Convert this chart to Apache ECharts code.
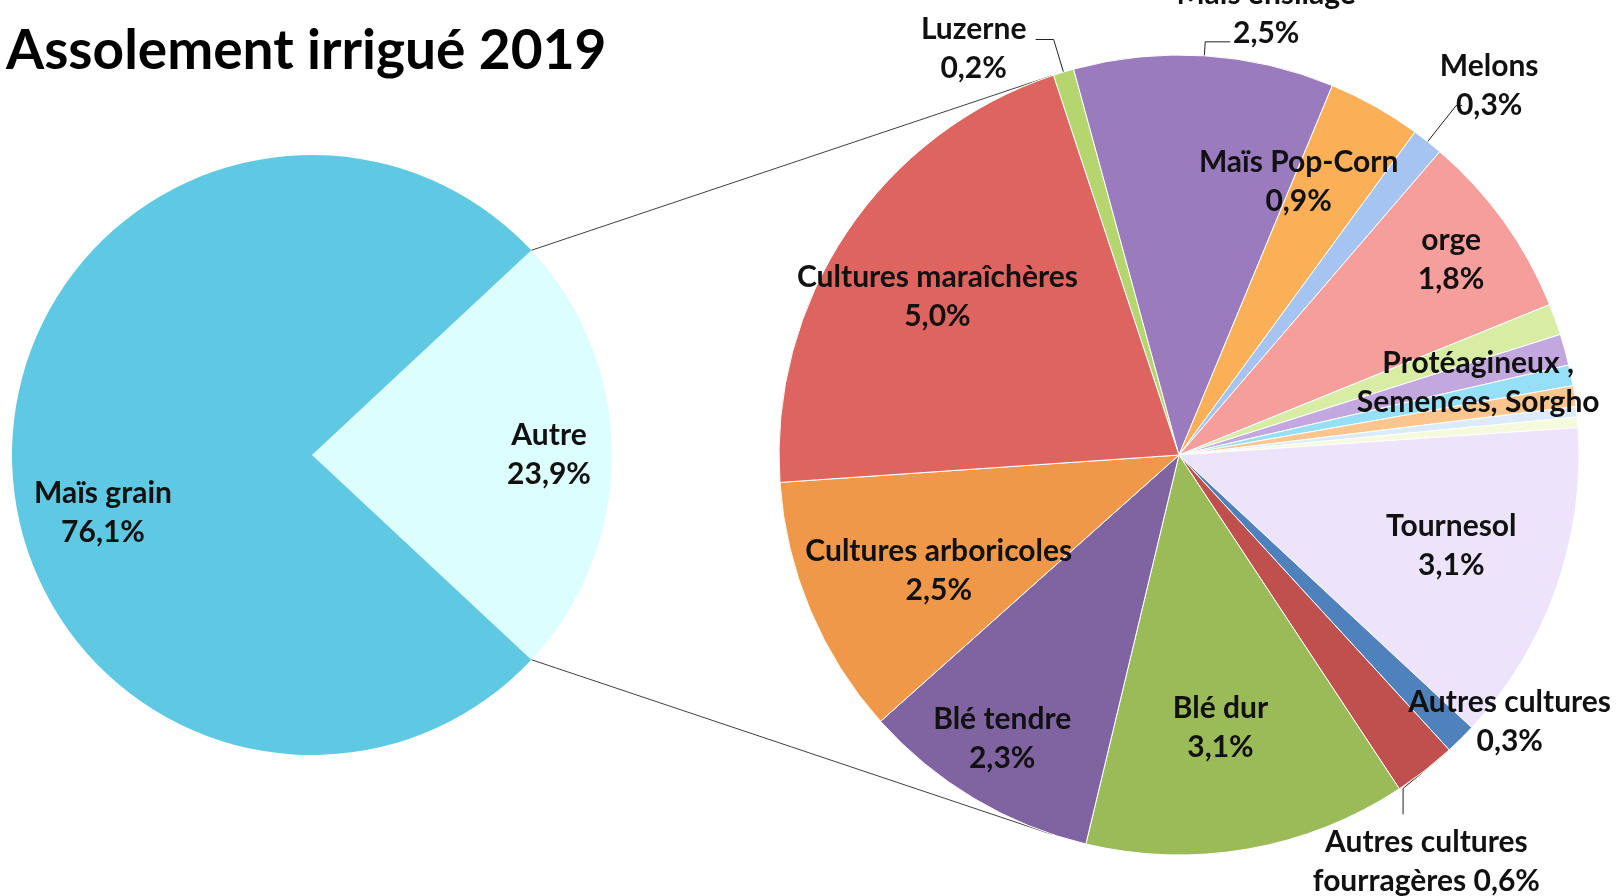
<!DOCTYPE html>
<html>
<head>
<meta charset="utf-8">
<script src="https://cdn.jsdelivr.net/npm/echarts@6/dist/echarts.min.js"></script>
<style>
  html, body { margin: 0; padding: 0; background: #fff; }
  #chart { width: 1618px; height: 896px; }
</style>
</head>
<body>
<div id="chart"></div>
<script>
// camembert principal
const mainNames = ['Autre', 'Maïs grain'];
const mainValues = [23.9, 76.1];

// détail de "Autre" (sens horaire depuis Luzerne)
const subNames = [
  'Luzerne', 'Maïs ensilage', 'Maïs Pop-Corn', 'Melons', 'orge',
  'Divers 1', 'Protéagineux', 'Semences', 'Sorgho', 'Divers 2', 'Divers 3',
  'Tournesol', 'Autres cultures', 'Autres cultures fourragères',
  'Blé dur', 'Blé tendre', 'Cultures arboricoles', 'Cultures maraîchères'
];
const subValues = [
  0.2, 2.5, 0.9, 0.3, 1.8,
  0.3, 0.3, 0.2, 0.2, 0.1, 0.1,
  3.1, 0.3, 0.6,
  3.1, 2.3, 2.5, 5.0
];

const mainColors = ['#DDFEFF', '#5FC8E3'];
const subColors = [
  '#B5D56F', '#9A7BBD', '#FBAF57', '#A6C4F2', '#F59E9B',
  '#D7EDA4', '#C2A8DE', '#95E0F6', '#FBC58E', '#DCEBFC', '#F6FADC',
  '#EDE3FB', '#4F81BD', '#C0504D',
  '#9BBB59', '#8064A2', '#F0984A', '#DE6460'
];

const MAIN_CENTER = [312, 455], MAIN_R = 300;
const SUB_CENTER = [1179, 455], SUB_R = 400;
const SUB_START = 108.3;
const MAIN_START = mainValues[0] / (mainValues[0] + mainValues[1]) * 180;

const font = {
  fontFamily: 'Lato', fontWeight: 'bold', fontSize: 30, lineHeight: 39, color: '#111'
};

const pct = v => v.toFixed(1).replace('.', ',') + '%';
function fmt(p) {
  if (p.name === 'Autres cultures fourragères') return 'Autres cultures\nfourragères ' + pct(p.value);
  if (p.name === 'Semences') return 'Protéagineux ,\nSemences, Sorgho';
  return p.name + '\n' + pct(p.value);
}

// étiquettes dans les parts
const ringA = ['Cultures maraîchères', 'Cultures arboricoles', 'Blé dur', 'Tournesol', 'Maïs Pop-Corn', 'Semences'];
const ringB = ['Blé tendre', 'orge'];
// étiquettes à l'extérieur avec trait de rappel
const outside = {
  'Luzerne': { len: 34, len2: 18 },
  'Maïs ensilage': { len: 14, len2: 25 },
  'Melons': { len: 46, len2: 6 },
  'Autres cultures': { len: 0, len2: 0, line: false },
  'Autres cultures fourragères': { len: 20, len2: 0 }
};
const shift = {
  'Luzerne': [-57, 9],
  'Maïs ensilage': [31, -28],
  'Melons': [22, -20],
  'Autres cultures': [44, -17],
  'Autres cultures fourragères': [-16, 76],
  'Semences': [14, -14],
  'Cultures arboricoles': [28, 3],
  'Maïs Pop-Corn': [-23, -20],
  'Blé dur': [-9, -14],
  'Tournesol': [-2, -6],
  'Cultures maraîchères': [0, 4],
  'Blé tendre': [-5, -4],
  'Maïs grain': [16, 58],
  'Autre': [12, 0]
};

function moveLabel(names) {
  return function (p) {
    const name = names[p.dataIndex];
    const s = shift[name];
    if (!s) return;
    const res = { align: 'center', dx: s[0], dy: s[1] };
    if (name === 'Autres cultures fourragères' && p.labelLinePoints) {
      const p0 = p.labelLinePoints[0];
      res.labelLinePoints = [[p0[0], p0[1]], [p0[0] - 22, p0[1] + 18], [p0[0] - 22, p0[1] + 44]];
    } else if (p.labelLinePoints) {
      res.labelLinePoints = p.labelLinePoints.map(q => [q[0], q[1]]);
    }
    return res;
  };
}

function labelRing(r0, names, values, center, r, start, shown) {
  return {
    type: 'pie', center: center, radius: [r0, r], startAngle: start,
    silent: true, animation: false,
    itemStyle: { color: 'rgba(0,0,0,0)', borderWidth: 0 },
    label: Object.assign({ position: 'inside', formatter: fmt }, font),
    labelLine: { show: false },
    emphasis: { disabled: true },
    labelLayout: moveLabel(names),
    data: names.map((name, i) => ({ name: name, value: values[i], label: { show: shown.includes(name) } }))
  };
}

// traits entre les deux camemberts (tangentes)
function connector(sign) {
  const rad = Math.PI / 180;
  const px = MAIN_CENTER[0] + MAIN_R * Math.cos(MAIN_START * rad);
  const py = MAIN_CENTER[1] + sign * MAIN_R * Math.sin(MAIN_START * rad);
  const vx = SUB_CENTER[0] - px, vy = SUB_CENTER[1] - py;
  const d = Math.hypot(vx, vy);
  const th = Math.atan2(vy, vx) + sign * Math.asin(SUB_R / d);
  const L = Math.sqrt(d * d - SUB_R * SUB_R);
  return {
    type: 'line', z: 0, silent: true,
    shape: { x1: px, y1: py, x2: px + L * Math.cos(th), y2: py + L * Math.sin(th) },
    style: { stroke: '#404040', lineWidth: 1 }
  };
}

const chart = echarts.init(document.getElementById('chart'));
chart.setOption({
  animation: false,
  backgroundColor: '#fff',
  title: {
    text: 'Assolement irrigué 2019',
    left: 1, top: 19,
    textStyle: { fontFamily: 'Lato', fontWeight: 'bold', fontSize: 55, color: '#000' }
  },
  graphic: [connector(-1), connector(1)],
  series: [
    {
      type: 'pie', center: MAIN_CENTER, radius: MAIN_R, startAngle: MAIN_START,
      animation: false,
      itemStyle: { borderColor: '#fff', borderWidth: 0 },
      label: { show: false }, labelLine: { show: false },
      emphasis: { disabled: true },
      data: mainNames.map((name, i) => ({ name: name, value: mainValues[i], itemStyle: { color: mainColors[i] } }))
    },
    labelRing(MAIN_R * 0.48, mainNames, mainValues, MAIN_CENTER, MAIN_R, MAIN_START, mainNames),
    {
      type: 'pie', center: SUB_CENTER, radius: SUB_R, startAngle: SUB_START,
      animation: false, avoidLabelOverlap: false,
      itemStyle: { borderColor: '#fff', borderWidth: 1 },
      label: Object.assign({ show: false, position: 'outside', formatter: fmt }, font),
      labelLine: { show: false, lineStyle: { color: '#222', width: 1 } },
      emphasis: { disabled: true },
      labelLayout: moveLabel(subNames),
      data: subNames.map((name, i) => {
        const o = outside[name];
        return {
          name: name, value: subValues[i],
          itemStyle: { color: subColors[i] },
          label: { show: !!o },
          labelLine: o ? { show: o.line !== false, length: o.len, length2: o.len2 } : { show: false }
        };
      })
    },
    labelRing(SUB_R * 0.44, subNames, subValues, SUB_CENTER, SUB_R, SUB_START, ringA),
    labelRing(SUB_R * 0.66, subNames, subValues, SUB_CENTER, SUB_R, SUB_START, ringB)
  ]
});
</script>
</body>
</html>
